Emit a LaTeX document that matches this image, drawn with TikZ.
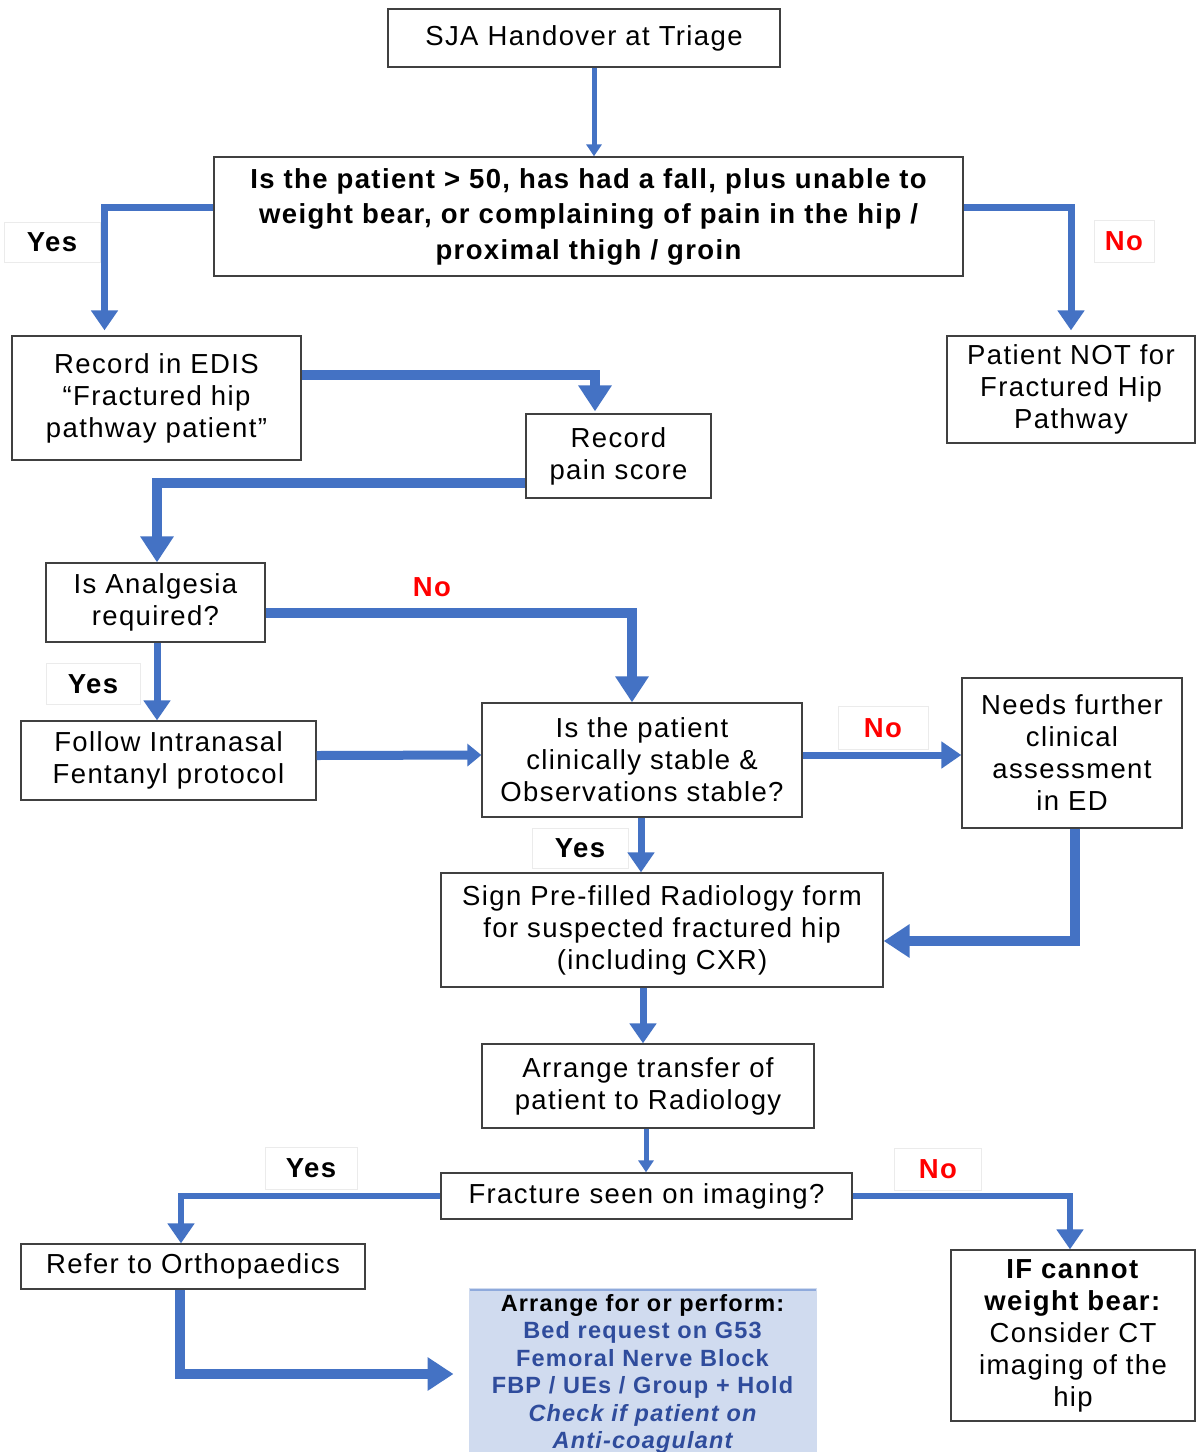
\documentclass[tikz,border=0pt]{standalone}
\usepackage{fontspec}
\setmainfont[LetterSpace=5]{Liberation Sans}
\usetikzlibrary{arrows.meta,calc}
\definecolor{arrblue}{HTML}{4472C4}
\definecolor{nored}{HTML}{FF0000}
\definecolor{txtblue}{HTML}{2F4C9C}
\definecolor{boxblue}{HTML}{D0DBEF}
\definecolor{boxline}{HTML}{8FAADC}
\begin{document}
\begin{tikzpicture}[x=1pt,y=-1pt,
  box/.style={draw=black!75, line width=1.3pt, fill=white, align=center, inner sep=0pt,
    font=\fontsize{27.5}{32}\selectfont},
  lbl/.style={draw=black!8, line width=1pt, fill=white, inner sep=0pt,
    font=\fontsize{27.5}{32}\selectfont\bfseries},
  thinarr/.style={draw=arrblue, line width=5pt, -{Triangle[length=12pt,width=15pt]}},
  medarr/.style={draw=arrblue, line width=7pt, -{Triangle[length=20pt,width=26pt]}},
  thickarr/.style={draw=arrblue, line width=10pt, -{Triangle[length=26pt,width=32pt]}},
  smallhead/.style={draw=arrblue, line width=9pt, -{Triangle[length=14pt,width=22pt]}}
]
\useasboundingbox (0,0) rectangle (1197,1452);
\fill[white] (0,0) rectangle (1197,1452);

% boxes
\node[box, minimum width=392pt, minimum height=58pt] (sja) at (584,38) {SJA Handover at Triage};
\node[box, minimum width=749pt, minimum height=119pt, font=\fontsize{27.5}{35.5}\selectfont\bfseries] (q1) at (588.5,216.5)
  {Is the patient > 50, has had a fall, plus unable to\\ weight bear, or complaining of pain in the hip /\\ proximal thigh / groin};
\node[box, minimum width=289pt, minimum height=124pt] (edis) at (156.5,398) {Record in EDIS\\ “Fractured hip\\ pathway patient”};
\node[box, minimum width=248pt, minimum height=107pt] (notb) at (1071,389.5) {Patient NOT for\\ Fractured Hip\\ Pathway};
\node[box, minimum width=185pt, minimum height=84pt] (pain) at (618.5,456) {Record\\ pain score};
\node[box, minimum width=219pt, minimum height=79pt] (analg) at (155.5,602.5) {Is Analgesia\\ required?};
\node[box, minimum width=295pt, minimum height=79pt] (fent) at (168.5,760.5) {Follow Intranasal\\ Fentanyl protocol};
\node[box, minimum width=320pt, minimum height=114pt] (stable) at (642,760) {Is the patient\\ clinically stable \&\\ Observations stable?};
\node[box, minimum width=220pt, minimum height=150pt] (needs) at (1072,753) {Needs further\\ clinical\\ assessment\\ in ED};
\node[box, minimum width=442pt, minimum height=114pt] (sign) at (662,930) {Sign Pre-filled Radiology form\\ for suspected fractured hip\\ (including CXR)};
\node[box, minimum width=332pt, minimum height=84pt] (arr) at (648,1086) {Arrange transfer of\\ patient to Radiology};
\node[box, minimum width=411pt, minimum height=46pt] (fract) at (646.5,1196) {Fracture seen on imaging?};
\node[box, minimum width=344pt, minimum height=45pt] (ortho) at (193,1266.5) {Refer to Orthopaedics};
\node[box, minimum width=244pt, minimum height=171pt] (ifb) at (1073,1335.5) {\textbf{IF cannot}\\ \textbf{weight bear:}\\ Consider CT\\ imaging of the\\ hip};
\node[draw=white, line width=1pt, fill=boxblue, minimum width=349pt, inner xsep=0pt, inner ysep=7pt, align=center,
  font=\fontsize{23.5}{27.4}\selectfont\bfseries, text=txtblue] (blue) at (642.5,1374)
  {\textcolor{black}{Arrange for or perform:}\\ Bed request on G53\\ Femoral Nerve Block\\ FBP / UEs / Group + Hold\\ \itshape Check if patient on\\ \itshape Anti-coagulant};
\draw[boxline, line width=2pt] (blue.north west) ++(2,3) -- ($(blue.north east)+(-2,3)$);

% labels
\node[lbl, minimum width=96pt, minimum height=40pt] (yes1) at (52,242) {Yes};
\node[lbl, minimum width=60pt, minimum height=42pt, text=nored] (no1) at (1124,241) {No};
\node[inner sep=0pt, font=\fontsize{27.5}{32}\selectfont\bfseries, text=nored] (no2) at (432,587) {No};
\node[lbl, minimum width=94pt, minimum height=41pt] (yes2) at (93,684) {Yes};
\node[lbl, minimum width=90pt, minimum height=43pt, text=nored] (no3) at (883,728) {No};
\node[lbl, minimum width=96pt, minimum height=40pt] (yes3) at (580,848) {Yes};
\node[lbl, minimum width=92pt, minimum height=42pt] (yes4) at (311,1168) {Yes};
\node[lbl, minimum width=87pt, minimum height=42pt, text=nored] (no4) at (938,1169) {No};

% connectors
\draw[thinarr] ([xshift=10pt]sja.south) -- ([xshift=5.5pt]q1.north);
\draw[medarr, shorten >=5pt] ([yshift=9pt]q1.west) -| ([xshift=-52pt]edis.north);
\draw[medarr, shorten >=5pt] ([yshift=9pt]q1.east) -| (notb.north);
\draw[thickarr, shorten >=2pt] ([yshift=23pt]edis.east) -| ([xshift=-23.5pt]pain.north);
\draw[thickarr] ([yshift=-27pt]pain.west) -| ([xshift=1.5pt]analg.north);
\draw[thickarr] ([yshift=-10pt]analg.east) -| ([xshift=-10pt]stable.north);
\draw[medarr] ([xshift=1.5pt]analg.south) -- ([xshift=1.5pt]analg.south |- fent.north);
\draw[smallhead] ([yshift=5pt]fent.east) -- ([yshift=5pt]stable.west);
\draw[medarr] ([yshift=5pt]stable.east) -- ([yshift=5pt]stable.east -| needs.west);
\draw[medarr] ([xshift=-1pt]stable.south) -- ([xshift=-1pt]stable.south |- sign.north);
\draw[thickarr] ([xshift=3pt]needs.south) |- ([yshift=-11pt]sign.east);
\draw[medarr] ([xshift=-5pt]arr.north |- sign.south) -- ([xshift=-5pt]arr.north);
\draw[thinarr] ([xshift=-2pt]arr.south) -- ([xshift=-0.5pt]fract.north);
\draw[medarr, line width=6pt] (fract.west) -| ([xshift=-12pt]ortho.north);
\draw[medarr, line width=6pt] (fract.east) -| ([xshift=-3pt]ifb.north);
\draw[thickarr, shorten >=14pt] ([xshift=-13pt]ortho.south) |- (blue.west);
\end{tikzpicture}
\end{document}
